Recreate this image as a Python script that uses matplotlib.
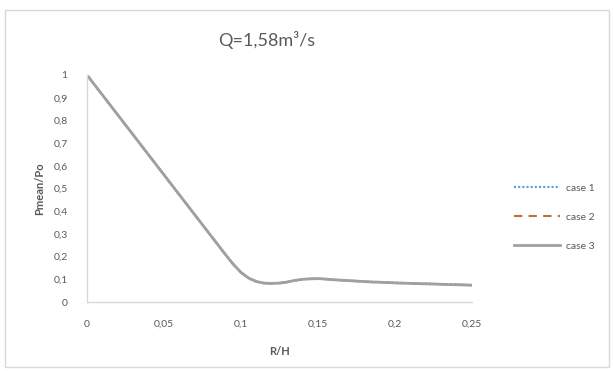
import matplotlib
matplotlib.use("Agg")
import matplotlib.pyplot as plt
from matplotlib.ticker import FuncFormatter

plt.rcParams['font.family'] = ['Lato', 'DejaVu Sans']

r_h = [0.0, 0.005, 0.01, 0.015, 0.02, 0.025, 0.03, 0.035, 0.04, 0.045,
       0.05, 0.055, 0.06, 0.065, 0.07, 0.075, 0.08, 0.085, 0.09, 0.095,
       0.1, 0.105, 0.11, 0.115, 0.12, 0.125, 0.13, 0.135, 0.14, 0.145,
       0.15, 0.155, 0.16, 0.165, 0.17, 0.175, 0.18, 0.185, 0.19, 0.195,
       0.2, 0.205, 0.21, 0.215, 0.22, 0.225, 0.23, 0.235, 0.24, 0.245, 0.25]

case1 = [1.0, 0.956, 0.912, 0.869, 0.825, 0.781, 0.737, 0.693, 0.649, 0.605,
         0.561, 0.517, 0.473, 0.429, 0.385, 0.341, 0.297, 0.253, 0.209, 0.167,
         0.131, 0.106, 0.091, 0.084, 0.083, 0.084, 0.089, 0.095, 0.100, 0.102,
         0.103, 0.101, 0.099, 0.097, 0.095, 0.093, 0.091, 0.089, 0.088, 0.087,
         0.085, 0.084, 0.083, 0.082, 0.081, 0.080, 0.079, 0.078, 0.077, 0.076, 0.075]

case2 = [1.0, 0.956, 0.912, 0.868, 0.824, 0.780, 0.736, 0.692, 0.648, 0.604,
         0.560, 0.516, 0.472, 0.428, 0.384, 0.340, 0.296, 0.252, 0.208, 0.166,
         0.130, 0.105, 0.090, 0.083, 0.082, 0.083, 0.088, 0.095, 0.100, 0.102,
         0.103, 0.101, 0.098, 0.096, 0.094, 0.092, 0.090, 0.088, 0.087, 0.086,
         0.084, 0.083, 0.082, 0.081, 0.080, 0.079, 0.078, 0.077, 0.076, 0.075, 0.074]

case3 = [1.0, 0.956, 0.912, 0.868, 0.824, 0.780, 0.736, 0.692, 0.648, 0.604,
         0.560, 0.516, 0.472, 0.428, 0.384, 0.340, 0.296, 0.252, 0.208, 0.166,
         0.130, 0.105, 0.090, 0.083, 0.082, 0.083, 0.088, 0.095, 0.100, 0.102,
         0.103, 0.101, 0.098, 0.096, 0.094, 0.092, 0.090, 0.088, 0.087, 0.086,
         0.084, 0.083, 0.082, 0.081, 0.080, 0.079, 0.078, 0.077, 0.076, 0.075, 0.074]

labels = ['case 1', 'case 2', 'case 3']
x_ticks = [0, 0.05, 0.1, 0.15, 0.2, 0.25]
y_ticks = [0, 0.1, 0.2, 0.3, 0.4, 0.5, 0.6, 0.7, 0.8, 0.9, 1]

fig = plt.figure(figsize=(6.14, 3.71), dpi=100)
fig.patch.set_facecolor('white')
border = plt.Rectangle((5/614, 4/371), 604/614, 357/371, transform=fig.transFigure,
                       fill=False, edgecolor='#d9d9d9', linewidth=1)
fig.patches.append(border)

ax = fig.add_axes([87/614, (371-302)/371, (472-87)/614, (302-75)/371])

ax.plot(r_h, case1, color='#5b9bd5', linestyle=(0, (1, 1)), linewidth=1.5, label=labels[0])
ax.plot(r_h, case2, color='#c0703a', linestyle=(0, (4, 3)), linewidth=1.5, label=labels[1])
ax.plot(r_h, case3, color='#a0a0a0', linestyle='-', linewidth=2.0, label=labels[2])

ax.set_xlim(0, 0.25)
ax.set_ylim(0, 1)
ax.set_xticks(x_ticks)
ax.set_yticks(y_ticks)

def comma_fmt(v, pos):
    s = ('%.2f' % v).rstrip('0').rstrip('.')
    return s.replace('.', ',')

ax.xaxis.set_major_formatter(FuncFormatter(comma_fmt))
ax.yaxis.set_major_formatter(FuncFormatter(comma_fmt))

for side in ['top', 'right']:
    ax.spines[side].set_visible(False)
for side in ['left', 'bottom']:
    ax.spines[side].set_color('#d9d9d9')
    ax.spines[side].set_linewidth(1)

ax.tick_params(axis='both', length=0, labelsize=7.5, labelcolor='#595959')
ax.tick_params(axis='x', pad=13)
ax.tick_params(axis='y', pad=14)

ax.set_xlabel('R/H', fontsize=8, fontweight='bold', color='#595959', labelpad=12)
ax.set_ylabel('Pmean/Po', fontsize=8, fontweight='bold', color='#595959', labelpad=6)

fig.text(267/614, 1 - 40/371, 'Q=1,58m³/s', ha='center', va='center',
         fontsize=13, color='#595959')

leg = ax.legend(loc='center left', bbox_to_anchor=(1.085, 0.374), frameon=False,
                fontsize=7.5, labelcolor='#595959', handlelength=4.4,
                labelspacing=1.9, handletextpad=0.6)

fig.savefig('out.png', dpi=100, facecolor='white')
